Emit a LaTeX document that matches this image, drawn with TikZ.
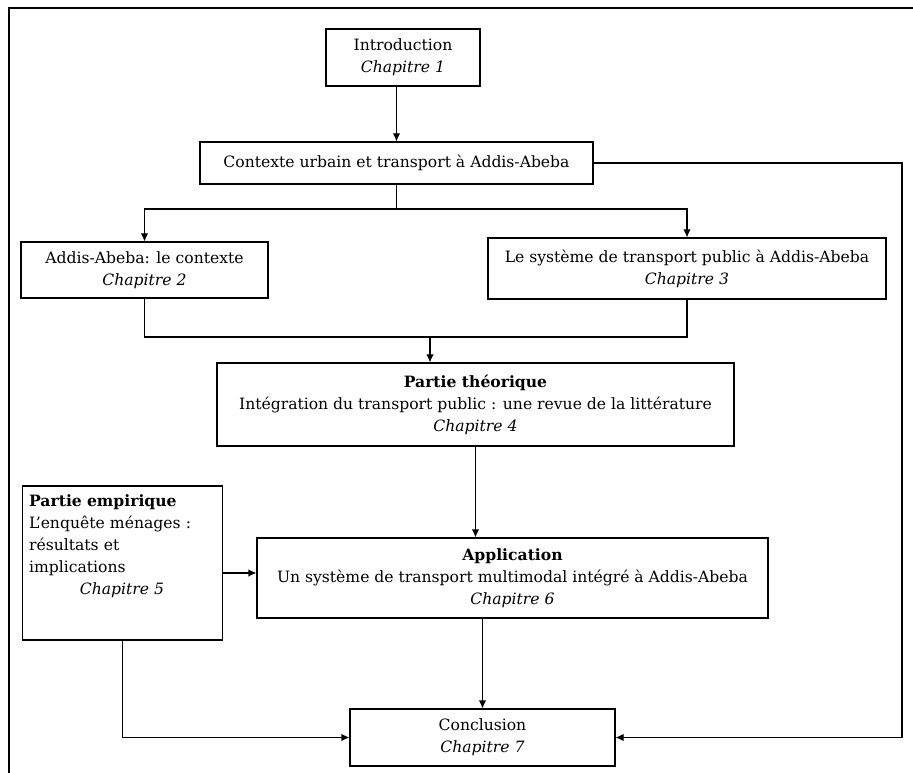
\documentclass[tikz,border=0pt]{standalone}
\usepackage{fontspec}
\setmainfont{DejaVu Serif}
\usepackage{tikz}
\usetikzlibrary{shapes,arrows,arrows.meta,positioning}
\tikzstyle{chap} = [draw, rectangle, align=center, inner sep=2pt, font=\fontsize{11.7}{16.5}\selectfont]

\begin{document}
\begin{tikzpicture}[x=0.75pt,y=-0.75pt,>={Latex[length=6pt,width=5.5pt]},line width=0.8pt]
    \clip (0,0) rectangle (913,773);
    \draw (9,800) -- (9,8) -- (930,8);

    \node [chap, minimum width=115.5pt, minimum height=42.75pt] (intro) at (403,57.5) {Introduction\\ \textit{Chapitre 1}};
    \node [chap, minimum width=294.75pt, minimum height=31.5pt] (ctx) at (396.5,163) {Contexte urbain et transport à Addis-Abeba};
    \node [chap, minimum width=185.25pt, minimum height=42pt] (ch2) at (144.5,270) {Addis-Abeba: le contexte\\ \textit{Chapitre 2}};
    \node [chap, minimum width=298.5pt, minimum height=45.75pt] (ch3) at (687,268.5) {Le système de transport public à Addis-Abeba\\ \textit{Chapitre 3}};
    \node [chap, minimum width=387.75pt, minimum height=62.25pt] (ch4) at (475.5,404.5) {\textbf{Partie théorique}\\ Intégration du transport public : une revue de la littérature\\ \textit{Chapitre 4}};
    \node [chap, align=left, text width=140pt, minimum height=115.5pt, inner sep=5pt] (ch5) at (122.5,563) {\textbf{Partie empirique}\\ L’enquête ménages :\\ résultats et\\ implications\\ \hspace*{38pt}\textit{Chapitre 5}\\[6pt]\strut};
    \node [chap, minimum width=383.25pt, minimum height=60pt] (ch6) at (512.5,578) {\textbf{Application}\\ Un système de transport multimodal intégré à Addis-Abeba\\ \textit{Chapitre 6}};
    \node [chap, minimum width=198.75pt, minimum height=42.75pt] (concl) at (482.5,737.5) {Conclusion\\ \textit{Chapitre 7}};

    \coordinate (split) at (396,209);
    \coordinate (join) at (430,337);
    \coordinate (rt) at (902,0);
    \coordinate (in6) at ([yshift=3.75pt]ch6.west);

    \draw [->] (ctx.north |- intro.south) -- (ctx.north);
    \draw (ctx.south) -- (ctx.south |- split);
    \draw [->] (ctx.south |- split) -| (ch2.north);
    \draw [->] (ctx.south |- split) -| (ch3.north);
    \draw (ch2.south) |- (join);
    \draw (ch3.south) |- (join);
    \draw [->] (join) -- (join |- ch4.north);
    \draw [->] (ch4.south) -- (ch4.south |- ch6.north);
    \draw [->] (in6 -| ch5.east) -- (in6);
    \draw [->] (concl.north |- ch6.south) -- (concl.north);
    \draw [->] (ch5.south) |- (concl.west);
    \draw [->] (ctx.east) -- (ctx.east -| rt) |- (concl.east);
\end{tikzpicture}
\end{document}
